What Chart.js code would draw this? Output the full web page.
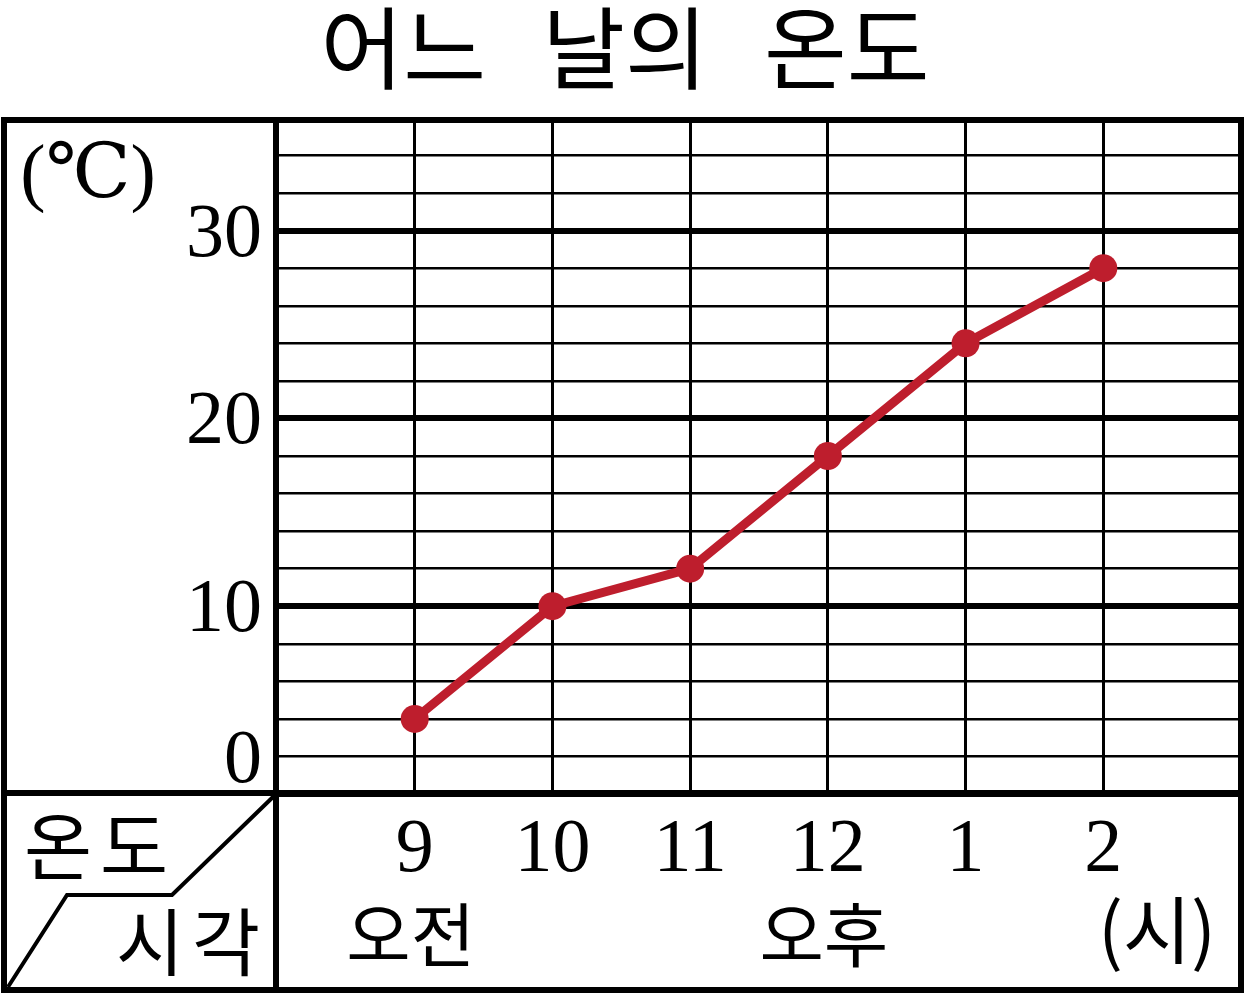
<!DOCTYPE html>
<html>
<head>
<meta charset="utf-8">
<script src="https://cdn.jsdelivr.net/npm/chart.js@4.4.0/dist/chart.umd.min.js"></script>
<style>
  html, body { margin: 0; padding: 0; background: #fff; overflow: hidden; }
  canvas { display: block; }
</style>
</head>
<body>
<canvas id="grafico" width="1245" height="996"></canvas>
<script>
const titulo = '어느 날의 온도';
const horas = ['9', '10', '11', '12', '1', '2'];
const temperaturas = [4, 10, 12, 18, 24, 28];
const rotulosY = [0, 10, 20, 30];
const unidadeY = '(℃)';
const periodos = ['오전', '오후'];
const periodoIdx = [0, 3];
const unidadeX = '(시)';
const cabecalho = ['온도', '시각'];

const serif = '"Liberation Serif", "DejaVu Serif", "Noto Sans CJK KR", serif';
const kr = '"Noto Sans CJK KR", sans-serif';

// moldura da tabela, titulo e rotulos
const moldura = {
  id: 'moldura',
  afterDraw(chart) {
    const c = chart.ctx;
    const a = chart.chartArea;
    const sx = chart.scales.x, sy = chart.scales.y;
    c.save();
    c.strokeStyle = '#000';
    c.lineCap = 'butt';

    // bordas
    c.lineWidth = 6;
    c.strokeRect(4, 120, a.right - 4, 870);
    c.beginPath();
    c.moveTo(276, 120); c.lineTo(276, 990);
    c.moveTo(4, a.bottom - 1); c.lineTo(a.right, a.bottom - 1);
    c.stroke();

    // diagonal do cabecalho
    c.lineWidth = 4;
    c.lineJoin = 'miter';
    c.beginPath();
    c.moveTo(8, 987); c.lineTo(67, 895); c.lineTo(172, 895); c.lineTo(274, 796);
    c.stroke();

    c.fillStyle = '#000';

    // titulo
    c.font = '400 90px ' + kr;
    c.textAlign = 'center';
    c.textBaseline = 'middle';
    if ('wordSpacing' in c) c.wordSpacing = '36px';
    c.fillText(titulo, 625, 48);
    if ('wordSpacing' in c) c.wordSpacing = '0px';

    // eixo y
    c.font = '76px ' + serif;
    c.textAlign = 'right';
    c.textBaseline = 'alphabetic';
    rotulosY.forEach(v => {
      const y = Math.min(sy.getPixelForValue(v), a.bottom - 37);
      c.fillText(String(v), 262, y + 25);
    });
    c.textAlign = 'center';
    c.fillText(unidadeY, 88, 197);

    // eixo x
    horas.forEach((h, i) => {
      c.fillText(h, sx.getPixelForValue(i + 1), 871);
    });

    c.font = '70px ' + kr;
    c.textBaseline = 'middle';
    periodos.forEach((p, i) => {
      c.fillText(p, sx.getPixelForValue(periodoIdx[i] + 1) - 4, 935);
    });
    c.font = '74px ' + kr;
    c.fillText(unidadeX, 1157, 930);

    if ('letterSpacing' in c) c.letterSpacing = '8px';
    c.fillText(cabecalho[0], 100, 846);
    c.fillText(cabecalho[1], 192, 942);
    c.restore();
  }
};

const ctx = document.getElementById('grafico').getContext('2d');
const chart = new Chart(ctx, {
  type: 'line',
  data: {
    datasets: [{
      label: '온도',
      data: temperaturas.map((t, i) => ({ x: i + 1, y: t })),
      borderColor: '#be1e2d',
      backgroundColor: '#be1e2d',
      borderWidth: 9,
      pointRadius: 14,
      pointBorderWidth: 0,
      pointBackgroundColor: '#be1e2d',
      tension: 0,
      clip: false
    }]
  },
  options: {
    responsive: false,
    animation: false,
    devicePixelRatio: 1,
    layout: {
      autoPadding: false,
      padding: { left: 277, right: 4, top: 118, bottom: 202 }
    },
    plugins: {
      legend: { display: false },
      tooltip: { enabled: false }
    },
    scales: {
      x: {
        type: 'linear',
        min: 0,
        max: 7,
        ticks: { display: false, stepSize: 1 },
        border: { display: false },
        grid: {
          drawTicks: false,
          color: '#000',
          lineWidth: c => (c.tick.value >= 1 && c.tick.value <= 6) ? 3 : 0
        }
      },
      y: {
        min: 0,
        max: 36,
        ticks: { display: false, stepSize: 2 },
        border: { display: false },
        grid: {
          drawTicks: false,
          color: '#000',
          lineWidth: c => c.tick.value % 10 === 0 ? 6 : 2.5
        }
      }
    }
  },
  plugins: [moldura]
});
</script>
</body>
</html>
